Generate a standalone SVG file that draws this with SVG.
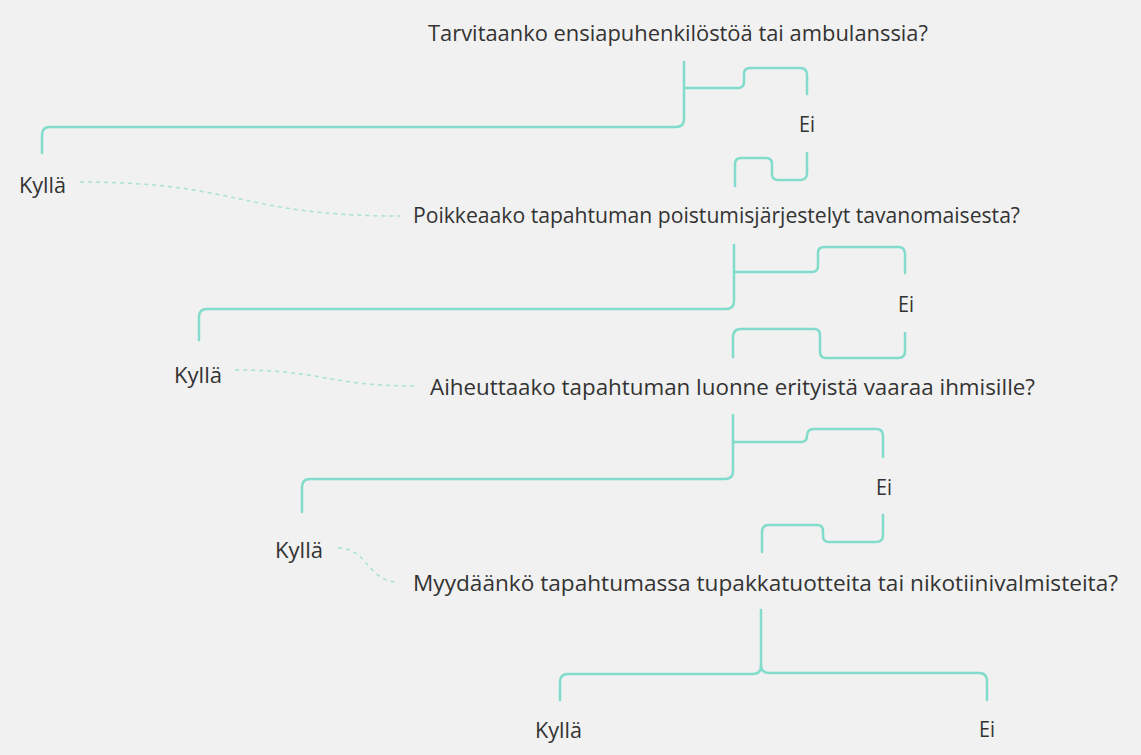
<svg xmlns="http://www.w3.org/2000/svg" width="1141" height="755" viewBox="0 0 1141 755">
<style>
.bg{fill:#f1f1f1}
.t{font-family:"Open Sans","Liberation Sans",sans-serif;font-size:21.5px;fill:#333333}
.ln{fill:none;stroke:#82dccb;stroke-width:2.5;stroke-linecap:round;stroke-linejoin:round}
.dl{fill:none;stroke:#a9e0d8;stroke-width:1.5;stroke-dasharray:4 4}
</style>
<rect class="bg" x="0" y="0" width="1141" height="755"/>
<g id="connectors">
<path class="ln" d="M684,62 V119 Q684,127 676,127 H50 Q42,127 42,135 V153"/>
<path class="ln" d="M684,88 H738 Q744,88 744,82 V74 Q744,68 750,68 H800 Q807,68 807,75 V94"/>
<path class="ln" d="M807,153 V173 Q807,180 800,180 H778 Q772,180 772,174 V164 Q772,158 766,158 H741 Q735,158 735,164 V186"/>
<path class="ln" d="M734,245 V301 Q734,309 726,309 H207 Q199,309 199,317 V340"/>
<path class="ln" d="M734,272 H812 Q818,272 818,266 V253 Q818,247 824,247 H898 Q905,247 905,254 V273"/>
<path class="ln" d="M905,333 V351 Q905,358 898,358 H826 Q820,358 820,352 V335 Q820,329 814,329 H741 Q733,329 733,337 V357"/>
<path class="ln" d="M733,415 V471 Q733,479 725,479 H310 Q302,479 302,487 V512"/>
<path class="ln" d="M733,442 H801 Q807,442 807,436 Q807,429 814,429 H876 Q883,429 883,436 V457"/>
<path class="ln" d="M883,515 V535 Q883,542 876,542 H829 Q823,542 823,536 V531 Q823,525 817,525 H769 Q762,525 762,532 V552"/>
<path class="ln" d="M761,610 V666 Q761,674 753,674 H568 Q560,674 560,682 V700"/>
<path class="ln" d="M761,665 Q761,673 769,673 H979 Q987,673 987,681 V700"/>
<path class="dl" d="M80,182 C240,182 240,216 400,216"/>
<path class="dl" d="M235,370 C326,370 326,386 417,386"/>
<path class="dl" d="M338,548 C368,548 368,582 398,582"/>
</g>
<g id="q1"><text class="t" x="428" y="41" textLength="500" lengthAdjust="spacingAndGlyphs">Tarvitaanko ensiapuhenkilöstöä tai ambulanssia?</text></g>
<g id="ei1"><text class="t" x="799" y="132" textLength="16" lengthAdjust="spacingAndGlyphs">Ei</text></g>
<g id="kylla1"><text class="t" x="19" y="193" textLength="47" lengthAdjust="spacingAndGlyphs">Kyllä</text></g>
<g id="q2"><text class="t" x="413" y="223" textLength="607" lengthAdjust="spacingAndGlyphs">Poikkeaako tapahtuman poistumisjärjestelyt tavanomaisesta?</text></g>
<g id="ei2"><text class="t" x="898" y="312" textLength="16" lengthAdjust="spacingAndGlyphs">Ei</text></g>
<g id="kylla2"><text class="t" x="174" y="383" textLength="48" lengthAdjust="spacingAndGlyphs">Kyllä</text></g>
<g id="q3"><text class="t" x="430" y="395" textLength="605" lengthAdjust="spacingAndGlyphs">Aiheuttaako tapahtuman luonne erityistä vaaraa ihmisille?</text></g>
<g id="ei3"><text class="t" x="876" y="495" textLength="16" lengthAdjust="spacingAndGlyphs">Ei</text></g>
<g id="kylla3"><text class="t" x="275" y="558" textLength="48" lengthAdjust="spacingAndGlyphs">Kyllä</text></g>
<g id="q4"><text class="t" x="413" y="591" textLength="705" lengthAdjust="spacingAndGlyphs">Myydäänkö tapahtumassa tupakkatuotteita tai nikotiinivalmisteita?</text></g>
<g id="kylla4"><text class="t" x="535" y="738" textLength="47" lengthAdjust="spacingAndGlyphs">Kyllä</text></g>
<g id="ei4"><text class="t" x="979" y="737" textLength="16" lengthAdjust="spacingAndGlyphs">Ei</text></g>
</svg>
